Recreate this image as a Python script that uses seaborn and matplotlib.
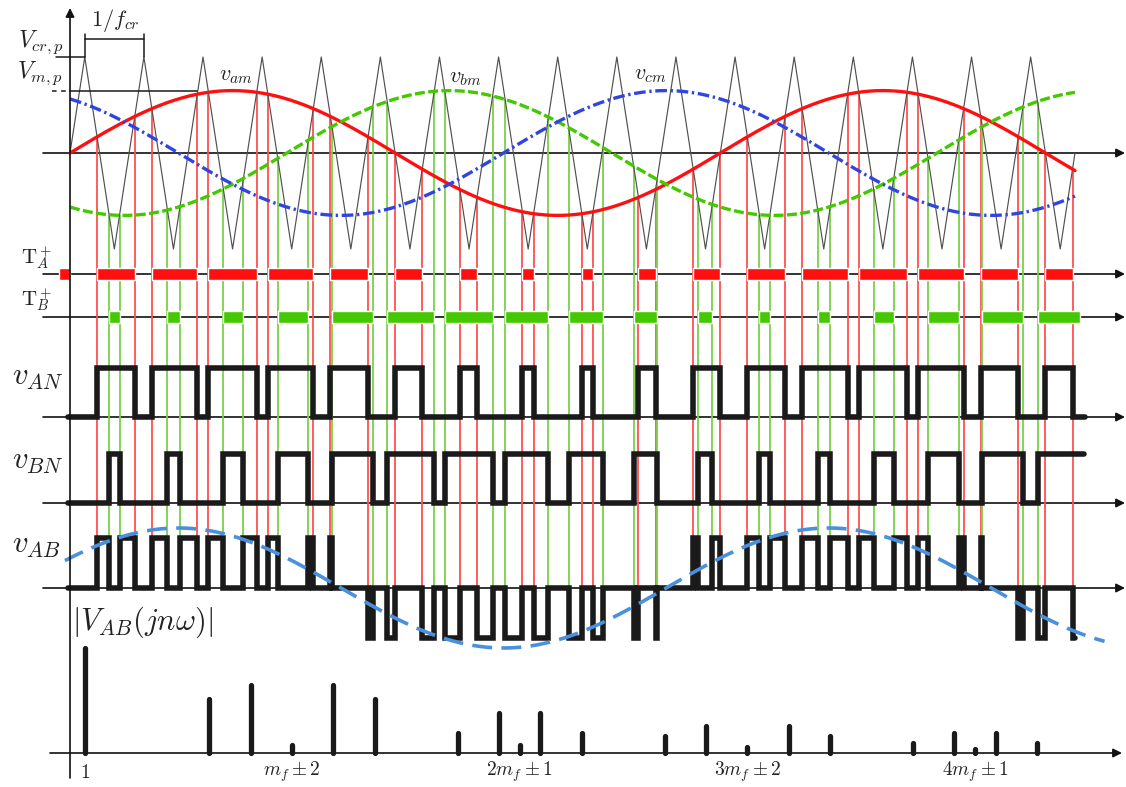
import numpy as np
import pandas as pd
import matplotlib
matplotlib.use("Agg")
import matplotlib.pyplot as plt
import seaborn as sns

# ---------------- data ----------------
M_F = 11                 # carrier periods per fundamental period (m_f)
M_A = 0.65               # modulation index V_m,p / V_cr,p
N_CARRIER = 17           # number of carrier periods shown
PHASE_NAMES = ["v_am", "v_bm", "v_cm"]
PHASES_DEG = [0, -120, 120]
VAB_FUND_AMP = 1.2       # amplitude of the dashed v_AB fundamental (in v_AB step units)
VAB_FUND_PHASE = 30      # deg

# line-to-line voltage spectrum |V_AB(jnw)| (harmonic order, relative amplitude)
harm_order = [1, 7, 9, 11, 13, 15, 19, 21, 22, 23, 25, 29, 31, 33, 35, 37, 41, 43, 44, 45, 47]
harm_amp = [1.00, 0.51, 0.65, 0.08, 0.65, 0.51, 0.19, 0.38, 0.08, 0.38, 0.19,
            0.16, 0.26, 0.06, 0.26, 0.16, 0.10, 0.19, 0.04, 0.19, 0.10]
spec_tick_order = [1, 11, 22, 33, 44]
spec_tick_labels = [r"$1$", r"$m_f\pm2$", r"$2m_f\pm1$", r"$3m_f\pm2$", r"$4m_f\pm1$"]

# ---------------- layout (pixels) ----------------
W, H = 1126, 787
X0 = 70.0
CP = 1005.0 / N_CARRIER          # px per carrier period
Y_TOP, CAR_PX = 153, 96
Y_TA, Y_TB, BAR_H = 274, 317, 12
Y_AN, Y_BN, STEP_H = 417, 503, 49
Y_AB, STEP_AB = 588, 50
Y_SPEC, SPEC_PX = 753, 105
SPEC_X0, SPEC_DX = 64.3, 20.7

RED, GREEN, BLUE, LBLUE = "#ff1010", "#44c800", "#3045e0", "#4a90dd"
VRED, VGREEN = "#ff5050", "#7ad04a"

sns.set_theme(style="white")
plt.rcParams["mathtext.fontset"] = "cm"
plt.rcParams["font.family"] = ["DejaVu Sans"]


def px2t(px):
    return (px - X0) / CP


fig = plt.figure(figsize=(W / 100, H / 100), dpi=100)
ax = fig.add_axes([0, 0, 1, 1])
ax.set_xlim(px2t(0), px2t(W))
ax.set_ylim(H, 0)
ax.axis("off")

# ---------------- signals ----------------
t = np.linspace(-0.2, N_CARRIER + 0.6, 178001)
tri = 2 / np.pi * np.arcsin(np.sin(2 * np.pi * t))
theta = 2 * np.pi * t / M_F
mods = [M_A * np.sin(theta + np.deg2rad(p)) for p in PHASES_DEG]
sA = mods[0] > tri
sB = mods[1] > tri


def crossings(m):
    d = m - tri
    i = np.flatnonzero(np.sign(d[:-1]) != np.sign(d[1:]))
    f = d[i] / (d[i] - d[i + 1])
    tc = t[i] + f * (t[i + 1] - t[i])
    yc = m[i] + f * (m[i + 1] - m[i])
    keep = (tc > 1e-6) & (tc <= N_CARRIER + 1e-6)
    return tc[keep], yc[keep]


def runs(s, lo, hi):
    msk = (t >= lo) & (t <= hi)
    tt, ss = t[msk], s[msk].astype(int)
    edges = np.flatnonzero(np.diff(ss)) + 1
    bounds = np.concatenate([[0], edges, [len(ss) - 1]])
    out = []
    for a, b in zip(bounds[:-1], bounds[1:]):
        if ss[a] == 1:
            out.append((tt[a], tt[b] - tt[a]))
    return out


def step_xy(v, lead, hi):
    # waveform from t=0+, extended to the left by a short flat lead-in
    msk = (t >= 1e-3) & (t <= hi)
    tt, vv = t[msk], v[msk]
    ch = np.flatnonzero(np.diff(vv)) + 1
    xs, ys = [lead], [vv[0]]
    for c in ch:
        xs += [tt[c], tt[c]]
        ys += [vv[c - 1], vv[c]]
    xs.append(tt[-1])
    ys.append(vv[-1])
    return np.array(xs), np.array(ys, dtype=float)


# ---------------- switching vertical lines ----------------
tcA, ycA = crossings(mods[0])
tcB, ycB = crossings(mods[1])
ax.vlines(tcA, Y_TOP - CAR_PX * ycA, Y_AB, color=VRED, lw=1.3, zorder=1)
ax.vlines(tcB, Y_TOP - CAR_PX * ycB, Y_AB, color=VGREEN, lw=1.3, zorder=1)

# ---------------- carrier + modulating waves ----------------
tc = np.arange(0, N_CARRIER + 1e-9, 0.25)
car = 2 / np.pi * np.arcsin(np.sin(2 * np.pi * tc))
sns.lineplot(x=tc, y=Y_TOP - CAR_PX * car, color="#505050", lw=0.85, ax=ax, zorder=2)

ts = np.linspace(0, N_CARRIER, 2001)
frames = []
for name, p in zip(PHASE_NAMES, PHASES_DEG):
    frames.append(pd.DataFrame({"t": ts,
                                "y": Y_TOP - CAR_PX * M_A * np.sin(2 * np.pi * ts / M_F + np.deg2rad(p)),
                                "phase": name}))
df = pd.concat(frames)
sns.lineplot(data=df, x="t", y="y", hue="phase", style="phase",
             palette={"v_am": RED, "v_bm": GREEN, "v_cm": BLUE},
             dashes={"v_am": "", "v_bm": (3, 1), "v_cm": (3.5, 1.1, 0.7, 1.1)},
             lw=2.4, legend=False, ax=ax, zorder=3, sort=False)

# ---------------- gate signals ----------------
ax.broken_barh(runs(sA, -0.19, N_CARRIER), (Y_TA - BAR_H / 2, BAR_H), facecolors=RED, zorder=2)
ax.broken_barh(runs(sB, 0.0, N_CARRIER + 0.08), (Y_TB - BAR_H / 2, BAR_H), facecolors=GREEN, zorder=2)

# ---------------- pole and line voltages ----------------
lw_w = 4.0
x, y = step_xy(sA.astype(int), -0.03, N_CARRIER + 0.17)
ax.plot(x, Y_AN - STEP_H * y, color="k", lw=lw_w, solid_joinstyle="miter", zorder=4)
x, y = step_xy(sB.astype(int), -0.03, N_CARRIER + 0.15)
ax.plot(x, Y_BN - STEP_H * y, color="k", lw=lw_w, solid_joinstyle="miter", zorder=4)
vab = sA.astype(int) - sB.astype(int)
x, y = step_xy(vab, -0.03, N_CARRIER)
ax.plot(x, Y_AB - STEP_AB * y, color="k", lw=lw_w, solid_joinstyle="miter", zorder=4)

tf = np.linspace(-0.085, N_CARRIER + 0.5, 1500)
sns.lineplot(x=tf, y=Y_AB - STEP_AB * VAB_FUND_AMP * np.sin(2 * np.pi * tf / M_F + np.deg2rad(VAB_FUND_PHASE)),
             color=LBLUE, lw=2.6, ax=ax, zorder=5, sort=False)
ax.lines[-1].set_dashes((5.5, 2.6))

# ---------------- axes lines / arrows ----------------
arrow_kw = dict(arrowstyle="-|>", color="#111111", lw=1.2, mutation_scale=13, shrinkA=0, shrinkB=0)
for yy in [Y_TOP, Y_TA, Y_TB, Y_AN, Y_BN, Y_AB]:
    ax.annotate("", xy=(px2t(1125), yy), xytext=(px2t(43), yy), arrowprops=arrow_kw, zorder=0)
ax.annotate("", xy=(px2t(1122), Y_SPEC), xytext=(px2t(50), Y_SPEC), arrowprops=arrow_kw, zorder=0)
ax.annotate("", xy=(0, 8), xytext=(0, 778), arrowprops=arrow_kw, zorder=6)

# V_cr,p, V_m,p markers and 1/f_cr bracket
ax.plot([px2t(56), 0.25], [57, 57], color="k", lw=1.1)
ax.plot([px2t(52), 0], [91, 91], color="k", lw=1.1, ls=(0, (3, 3)))
ax.plot([0, px2t(197)], [91, 91], color="k", lw=1.1)
ax.plot([0.25, 0.25], [34, 57], color="k", lw=1.1)
ax.plot([1.25, 1.25], [34, 57], color="k", lw=1.1)
ax.plot([0.25, 1.25], [39, 39], color="k", lw=1.1)

# ---------------- spectrum ----------------
ax2 = fig.add_axes([0, 0, 1, 1])
ax2.patch.set_alpha(0)
ax2.set_xlim(-SPEC_X0 / SPEC_DX, (W - SPEC_X0) / SPEC_DX)
ax2.set_ylim(-(H - Y_SPEC) / SPEC_PX, Y_SPEC / SPEC_PX)
ax2.axis("off")
ax2.vlines(harm_order, 0, harm_amp, color="k", lw=3.8, capstyle="round")
for n, lab in zip(spec_tick_order, spec_tick_labels):
    ax2.text(n, -(772 - Y_SPEC) / SPEC_PX, lab, ha="center", va="center", fontsize=14, color="#222222")


# ---------------- labels ----------------
def ftext(px, py, s, fs, **kw):
    fig.text(px / W, 1 - py / H, s, fontsize=fs, ha="center", va="center", color="#222222", **kw)


ftext(41, 42, r"$V_{cr,p}$", 17)
ftext(40, 73, r"$V_{m,p}$", 17)
ftext(115, 21, r"$1/f_{cr}$", 16)
ftext(236, 76, r"$v_{am}$", 16)
ftext(465, 78, r"$v_{bm}$", 16)
ftext(650, 75, r"$v_{cm}$", 16)
ftext(37, 258, r"$\mathrm{T}_A^+$", 15)
ftext(37, 300, r"$\mathrm{T}_B^+$", 15)
ftext(38, 378, r"$v_{AN}$", 22)
ftext(38, 462, r"$v_{BN}$", 22)
ftext(36, 545, r"$v_{AB}$", 22)
ftext(142, 622, r"$|V_{AB}(jn\omega)|$", 22)

fig.savefig("out.png", dpi=100)
